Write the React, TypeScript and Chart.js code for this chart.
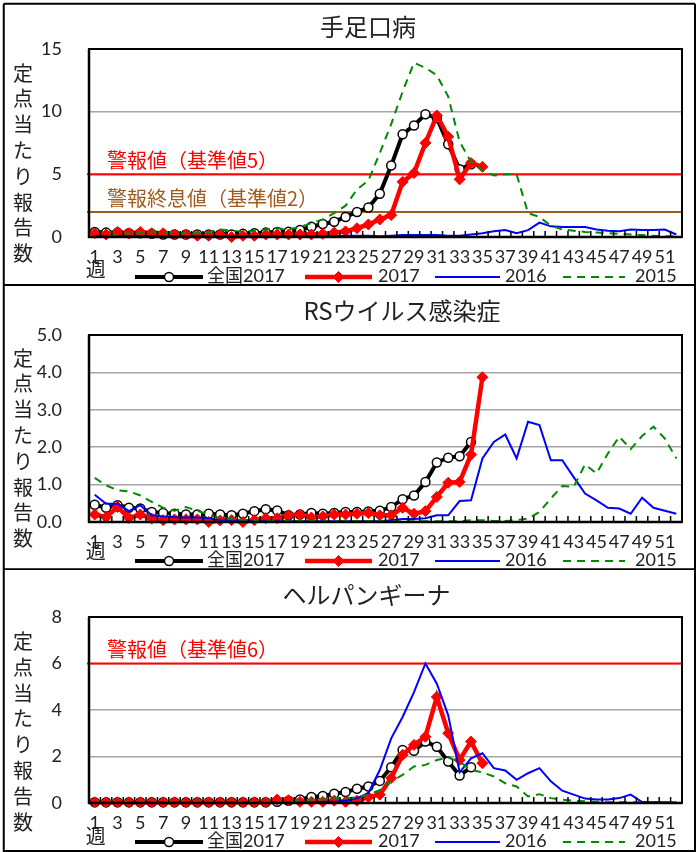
import React, { useEffect, useRef } from "react";
import { Chart, registerables } from "chart.js";
Chart.register(...registerables);

const JP = "'Noto Sans CJK JP', sans-serif";
const NUM = "Lato, 'Noto Sans CJK JP', sans-serif";

// ---------- categories ----------
const WEEKS = [
  "1", "2", "3", "4", "5", "6", "7", "8", "9", "10",
  "11", "12", "13", "14", "15", "16", "17", "18", "19", "20",
  "21", "22", "23", "24", "25", "26", "27", "28", "29", "30",
  "31", "32", "33", "34", "35", "36", "37", "38", "39", "40",
  "41", "42", "43", "44", "45", "46", "47", "48", "49", "50",
  "51", "52",
];
const SERIES_LABELS = ["全国2017", "2017", "2016", "2015"];
const Y_AXIS_LABEL = "定点当たり報告数";
const WEEK_LABEL = "週";

// ---------- 手足口病 ----------
const HFMD_TITLE = "手足口病";
const HFMD_NATIONAL_2017 = [
  0.4, 0.35, 0.35, 0.3, 0.3, 0.25, 0.2, 0.2, 0.2, 0.2,
  0.2, 0.2, 0.2, 0.25, 0.3, 0.35, 0.4, 0.42, 0.56, 0.82,
  1.04, 1.22, 1.6, 2.0, 2.35, 3.45, 5.7, 8.2, 8.9, 9.8,
  9.5, 7.4, 5.4, 5.8,
];
const HFMD_LOCAL_2017 = [
  0.3, 0.2, 0.4, 0.3, 0.4, 0.3, 0.3, 0.2, 0.2, 0.1,
  0.1, 0.2, 0.0, 0.1, 0.1, 0.2, 0.2, 0.2, 0.2, 0.2,
  0.25, 0.35, 0.45, 0.7, 1.0, 1.4, 1.75, 4.4, 5.1, 7.5,
  9.7, 8.0, 4.6, 5.9, 5.6,
];
const HFMD_2016 = [
  0.1, 0.05, 0.05, 0.05, 0.05, 0.05, 0.05, 0.05, 0.05, 0.05,
  0.05, 0.05, 0.05, 0.05, 0.05, 0.05, 0.05, 0.05, 0.05, 0.05,
  0.05, 0.05, 0.1, 0.1, 0.1, 0.05, 0.1, 0.15, 0.15, 0.15,
  0.15, 0.1, 0.1, 0.2, 0.3, 0.45, 0.55, 0.3, 0.55, 1.15,
  0.85, 0.8, 0.8, 0.8, 0.6, 0.5, 0.45, 0.6, 0.55, 0.55,
  0.6, 0.2,
];
const HFMD_2015 = [
  0.0, 0.1, 0.2, 0.3, 0.4, 0.45, 0.4, 0.35, 0.3, 0.3,
  0.4, 0.6, 0.5, 0.4, 0.5, 0.6, 0.7, 0.6, 0.8, 1.1,
  1.4, 1.9, 2.5, 3.8, 4.5, 6.7, 9.0, 11.6, 13.9, 13.5,
  12.9, 11.2, 7.6, 6.0, 5.3, 4.9, 5.0, 5.0, 1.9, 1.6,
  0.9, 0.6, 0.5, 0.4, 0.35, 0.3, 0.25, 0.2, 0.15, 0.1,
  0.05, 0.05,
];
const HFMD_Y_TICKS = [0, 5, 10, 15];
const HFMD_Y_TICK_LABELS = ["0", "5", "10", "15"];
const HFMD_THRESHOLD_VALUES = [5, 2];
const HFMD_THRESHOLD_LABELS = ["警報値（基準値5）", "警報終息値（基準値2）"];

// ---------- RSウイルス感染症 ----------
const RSV_TITLE = "RSウイルス感染症";
const RSV_NATIONAL_2017 = [
  0.46, 0.38, 0.45, 0.38, 0.36, 0.27, 0.24, 0.22, 0.2, 0.2,
  0.22, 0.2, 0.18, 0.22, 0.29, 0.34, 0.31, 0.18, 0.2, 0.24,
  0.22, 0.24, 0.27, 0.27, 0.28, 0.3, 0.4, 0.61, 0.71, 1.07,
  1.59, 1.72, 1.76, 2.14,
];
const RSV_LOCAL_2017 = [
  0.2, 0.13, 0.4, 0.11, 0.2, 0.09, 0.05, 0.07, 0.07, 0.07,
  0.0, 0.04, 0.05, 0.0, 0.05, 0.1, 0.1, 0.18, 0.2, 0.12,
  0.15, 0.2, 0.2, 0.22, 0.24, 0.18, 0.18, 0.38, 0.22, 0.29,
  0.67, 1.05, 1.07, 1.8, 3.87,
];
const RSV_2016 = [
  0.73, 0.49, 0.49, 0.29, 0.45, 0.18, 0.15, 0.13, 0.12, 0.12,
  0.1, 0.05, 0.03, 0.02, 0.02, 0.02, 0.02, 0.02, 0.02, 0.02,
  0.02, 0.02, 0.02, 0.02, 0.02, 0.02, 0.05, 0.08, 0.08, 0.1,
  0.18, 0.18, 0.56, 0.58, 1.7, 2.14, 2.34, 1.7, 2.68, 2.59,
  1.65, 1.65, 1.2, 0.76, 0.58, 0.38, 0.36, 0.22, 0.65, 0.38,
  0.3, 0.22,
];
const RSV_2015 = [
  1.18, 0.98, 0.85, 0.82, 0.71, 0.54, 0.38, 0.3, 0.4, 0.3,
  0.2, 0.1, 0.08, 0.06, 0.05, 0.04, 0.04, 0.03, 0.03, 0.03,
  0.03, 0.03, 0.03, 0.03, 0.03, 0.02, 0.02, 0.02, 0.02, 0.02,
  0.02, 0.02, 0.02, 0.05, 0.05, 0.03, 0.03, 0.05, 0.09, 0.27,
  0.63, 0.96, 0.94, 1.54, 1.3, 1.83, 2.28, 1.95, 2.3, 2.55,
  2.23, 1.7,
];
const RSV_Y_TICKS = [0, 1, 2, 3, 4, 5];
const RSV_Y_TICK_LABELS = ["0.0", "1.0", "2.0", "3.0", "4.0", "5.0"];

// ---------- ヘルパンギーナ ----------
const HERP_TITLE = "ヘルパンギーナ";
const HERP_NATIONAL_2017 = [
  0.03, 0.03, 0.03, 0.03, 0.03, 0.03, 0.03, 0.03, 0.03, 0.03,
  0.03, 0.03, 0.03, 0.03, 0.03, 0.03, 0.05, 0.1, 0.15, 0.26,
  0.3, 0.4, 0.47, 0.61, 0.71, 0.95, 1.54, 2.28, 2.25, 2.64,
  2.42, 1.78, 1.18, 1.54,
];
const HERP_LOCAL_2017 = [
  0.03, 0.03, 0.03, 0.03, 0.03, 0.03, 0.03, 0.03, 0.03, 0.03,
  0.03, 0.03, 0.03, 0.03, 0.03, 0.03, 0.15, 0.12, 0.05, 0.05,
  0.05, 0.1, 0.05, 0.1, 0.26, 0.36, 1.07, 2.07, 2.5, 2.85,
  4.56, 3.0, 1.85, 2.64, 1.71,
];
const HERP_2016 = [
  0.02, 0.02, 0.02, 0.02, 0.02, 0.02, 0.02, 0.02, 0.02, 0.02,
  0.02, 0.02, 0.02, 0.02, 0.02, 0.02, 0.02, 0.02, 0.02, 0.02,
  0.05, 0.05, 0.1, 0.2, 0.43, 1.42, 2.78, 3.7, 4.77, 6.0,
  5.13, 3.77, 1.32, 1.92, 2.14, 1.5, 1.4, 1.0, 1.28, 1.5,
  0.93, 0.53, 0.36, 0.19, 0.15, 0.15, 0.21, 0.36, 0.04, 0.04,
  0.03, 0.02,
];
const HERP_2015 = [
  0.05, 0.05, 0.05, 0.05, 0.05, 0.05, 0.05, 0.05, 0.05, 0.05,
  0.05, 0.05, 0.05, 0.05, 0.05, 0.05, 0.05, 0.05, 0.1, 0.15,
  0.15, 0.2, 0.2, 0.25, 0.36, 0.55, 0.93, 1.21, 1.57, 1.64,
  1.85, 1.95, 1.78, 1.42, 1.32, 1.14, 0.85, 0.71, 0.28, 0.38,
  0.21, 0.14, 0.1, 0.07, 0.05, 0.03, 0.03, 0.03, 0.03, 0.03,
  0.03, 0.03,
];
const HERP_Y_TICKS = [0, 2, 4, 6, 8];
const HERP_Y_TICK_LABELS = ["0", "2", "4", "6", "8"];
const HERP_THRESHOLD_VALUES = [6];
const HERP_THRESHOLD_LABELS = ["警報値（基準値6）"];

// ---------- styles ----------
const RED = "#ff0000";
const BROWN = "#9e5b1f";
const BLUE = "#0000ff";
const GREEN = "#008a00";
const GRID = "#a6a6a6";
const TEXT = "#222222";

const LEGEND_SLOTS = [
  { lineStart: 135, lineEnd: 203, textX: 207 },
  { lineStart: 305, lineEnd: 372, textX: 378 },
  { lineStart: 435, lineEnd: 500, textX: 505 },
  { lineStart: 563, lineEnd: 625, textX: 635 },
];

type Series = (number | null)[];
interface PanelCfg {
  height: number;
  plotTop: number;
  plotBottom: number;
  title: string;
  titleX: number;
  titleY: number;
  yLabelTop: number;
  legendY: number;
  weekY: number;
  topBorder: boolean;
  bottomBorderY: number;
  yTicks: number[];
  yTickLabels: string[];
  series: Series[];
  thresholds: { value: number; label: string; color: string }[];
}

function drawMarker(ctx: CanvasRenderingContext2D, style: string, x: number, y: number, r: number, fill: string, stroke: string, bw: number) {
  ctx.beginPath();
  if (style === "rectRot") {
    ctx.moveTo(x, y - r);
    ctx.lineTo(x + r, y);
    ctx.lineTo(x, y + r);
    ctx.lineTo(x - r, y);
    ctx.closePath();
  } else {
    ctx.arc(x, y, r, 0, Math.PI * 2);
  }
  ctx.fillStyle = fill;
  ctx.fill();
  ctx.lineWidth = bw;
  ctx.strokeStyle = stroke;
  ctx.stroke();
}

const decorPlugin = {
  id: "decor",
  beforeDatasetsDraw(chart: any, _args: any, o: any) {
    const { ctx, chartArea: a } = chart;
    const ys = chart.scales.y;
    ctx.save();
    for (const t of o.thresholds) {
      const py = ys.getPixelForValue(t.value);
      ctx.strokeStyle = t.color;
      ctx.lineWidth = 2;
      ctx.beginPath();
      ctx.moveTo(a.left - 2, py);
      ctx.lineTo(a.right, py);
      ctx.stroke();
      ctx.fillStyle = t.color;
      ctx.font = `20px ${JP}`;
      ctx.textAlign = "left";
      ctx.textBaseline = "middle";
      ctx.fillText(t.label, a.left + 18, py - 14);
    }
    ctx.restore();
  },
  afterDatasetsDraw(chart: any) {
    const { ctx, chartArea: a } = chart;
    const xs = chart.scales.x;
    const n = chart.data.labels.length;
    ctx.save();
    ctx.strokeStyle = "#000";
    ctx.lineWidth = 1.5;
    ctx.beginPath();
    for (let i = 1; i < n; i++) {
      const px = (xs.getPixelForValue(i - 1) + xs.getPixelForValue(i)) / 2;
      ctx.moveTo(px, a.bottom);
      ctx.lineTo(px, a.bottom - 6);
    }
    ctx.stroke();
    ctx.lineWidth = 2;
    ctx.strokeRect(a.left, a.top, a.right - a.left, a.bottom - a.top);
    ctx.lineWidth = 2.5;
    ctx.beginPath();
    ctx.moveTo(a.left, a.top);
    ctx.lineTo(a.left, a.bottom);
    ctx.lineTo(a.right, a.bottom);
    ctx.stroke();
    ctx.restore();
  },
  afterDraw(chart: any, _args: any, o: any) {
    const { ctx } = chart;
    const xs = chart.scales.x;
    ctx.save();
    ctx.fillStyle = TEXT;
    ctx.textAlign = "center";
    ctx.textBaseline = "middle";
    ctx.font = `24px ${JP}`;
    ctx.fillText(o.title, o.titleX, o.titleY);
    ctx.font = `20px ${JP}`;
    Array.from(Y_AXIS_LABEL).forEach((ch, i) => ctx.fillText(ch, 23, o.yLabelTop + i * 25.8));
    ctx.fillText(WEEK_LABEL, xs.getPixelForValue(0) + 1, o.weekY);

    chart.data.datasets.forEach((ds: any, i: number) => {
      const s = LEGEND_SLOTS[i];
      ctx.save();
      ctx.strokeStyle = ds.borderColor;
      ctx.lineWidth = ds.borderWidth;
      ctx.setLineDash(ds.borderDash || []);
      ctx.beginPath();
      ctx.moveTo(s.lineStart, o.legendY);
      ctx.lineTo(s.lineEnd, o.legendY);
      ctx.stroke();
      ctx.setLineDash([]);
      if (ds.pointRadius > 0) {
        drawMarker(ctx, ds.pointStyle, (s.lineStart + s.lineEnd) / 2, o.legendY, ds.pointRadius, ds.pointBackgroundColor, ds.pointBorderColor, ds.pointBorderWidth);
      }
      ctx.restore();
      ctx.fillStyle = TEXT;
      ctx.font = `18px ${NUM}`;
      ctx.textAlign = "left";
      ctx.textBaseline = "middle";
      ctx.fillText(ds.label, s.textX, o.legendY - 1);
    });

    ctx.strokeStyle = "#000";
    ctx.lineWidth = 2;
    ctx.beginPath();
    const top = o.topBorder ? 3.75 : 0;
    ctx.moveTo(3.75, top);
    ctx.lineTo(3.75, o.bottomBorderY);
    ctx.moveTo(695, top);
    ctx.lineTo(695, o.bottomBorderY);
    if (o.topBorder) {
      ctx.moveTo(3.75, top);
      ctx.lineTo(695, top);
    }
    ctx.moveTo(2.75, o.bottomBorderY);
    ctx.lineTo(696, o.bottomBorderY);
    ctx.stroke();
    ctx.restore();
  },
};

function buildDatasets(series: Series[]) {
  return [
    {
      label: SERIES_LABELS[0], data: series[0], order: 3,
      borderColor: "#000000", borderWidth: 4,
      pointStyle: "circle", pointRadius: 4.5,
      pointBackgroundColor: "#ffffff", pointBorderColor: "#000000", pointBorderWidth: 1.5,
    },
    {
      label: SERIES_LABELS[1], data: series[1], order: 2,
      borderColor: RED, borderWidth: 4.5,
      pointStyle: "rectRot", pointRadius: 5.5,
      pointBackgroundColor: RED, pointBorderColor: RED, pointBorderWidth: 1,
    },
    {
      label: SERIES_LABELS[2], data: series[2], order: 1,
      borderColor: BLUE, borderWidth: 2, pointRadius: 0,
    },
    {
      label: SERIES_LABELS[3], data: series[3], order: 0,
      borderColor: GREEN, borderWidth: 2, borderDash: [8, 6], pointRadius: 0,
    },
  ];
}

function Panel({ cfg }: { cfg: PanelCfg }) {
  const ref = useRef<HTMLCanvasElement>(null);
  useEffect(() => {
    const maxY = cfg.yTicks[cfg.yTicks.length - 1];
    const chart = new Chart(ref.current as HTMLCanvasElement, {
      type: "line",
      data: { labels: WEEKS, datasets: buildDatasets(cfg.series) as any },
      plugins: [decorPlugin as any],
      options: {
        animation: false,
        responsive: false,
        devicePixelRatio: 1,
        layout: { padding: { top: cfg.plotTop, right: 15, left: 0, bottom: 0 } },
        elements: { line: { tension: 0 } },
        datasets: { line: { clip: false as any, spanGaps: false } },
        plugins: {
          legend: { display: false },
          tooltip: { enabled: false },
          title: { display: false },
          decor: {
            title: cfg.title, titleX: cfg.titleX, titleY: cfg.titleY,
            yLabelTop: cfg.yLabelTop, legendY: cfg.legendY, weekY: cfg.weekY,
            topBorder: cfg.topBorder, bottomBorderY: cfg.bottomBorderY,
            thresholds: cfg.thresholds,
          },
        } as any,
        scales: {
          x: {
            type: "category",
            offset: true,
            grid: { display: false, drawTicks: false },
            border: { display: false },
            afterFit: (s: any) => { s.height = cfg.height - cfg.plotBottom; },
            ticks: {
              autoSkip: false, maxRotation: 0, minRotation: 0, padding: 9,
              color: TEXT, font: { family: NUM, size: 18 },
              callback: (_v: any, i: number) => (i % 2 === 0 ? WEEKS[i] : ""),
            },
          },
          y: {
            min: 0, max: maxY,
            afterFit: (s: any) => { s.width = 89; },
            afterBuildTicks: (s: any) => { s.ticks = cfg.yTicks.map((v) => ({ value: v })); },
            grid: {
              drawTicks: false, lineWidth: 1.5,
              color: (c: any) => (c.tick && (c.tick.value === 0 || c.tick.value === maxY) ? "rgba(0,0,0,0)" : GRID),
            },
            border: { display: false },
            ticks: {
              padding: 27, color: TEXT, font: { family: NUM, size: 18 },
              callback: (_v: any, i: number) => cfg.yTickLabels[i],
            },
          },
        },
      },
    });
    return () => chart.destroy();
  }, [cfg]);
  return <canvas ref={ref} width={697} height={cfg.height} style={{ display: "block", width: 697, height: cfg.height }} />;
}

const PANELS: PanelCfg[] = [
  {
    height: 286, plotTop: 49, plotBottom: 237, title: HFMD_TITLE, titleX: 368, titleY: 27,
    yLabelTop: 73, legendY: 277, weekY: 269, topBorder: true, bottomBorderY: 285,
    yTicks: HFMD_Y_TICKS, yTickLabels: HFMD_Y_TICK_LABELS,
    series: [HFMD_NATIONAL_2017, HFMD_LOCAL_2017, HFMD_2016, HFMD_2015],
    thresholds: [
      { value: HFMD_THRESHOLD_VALUES[0], label: HFMD_THRESHOLD_LABELS[0], color: RED },
      { value: HFMD_THRESHOLD_VALUES[1], label: HFMD_THRESHOLD_LABELS[1], color: BROWN },
    ],
  },
  {
    height: 284, plotTop: 49, plotBottom: 236, title: RSV_TITLE, titleX: 402, titleY: 25,
    yLabelTop: 72, legendY: 275, weekY: 265.5, topBorder: false, bottomBorderY: 283.3,
    yTicks: RSV_Y_TICKS, yTickLabels: RSV_Y_TICK_LABELS,
    series: [RSV_NATIONAL_2017, RSV_LOCAL_2017, RSV_2016, RSV_2015],
    thresholds: [],
  },
  {
    height: 282, plotTop: 47, plotBottom: 233, title: HERP_TITLE, titleX: 366.5, titleY: 25,
    yLabelTop: 71.5, legendY: 272, weekY: 266.5, topBorder: false, bottomBorderY: 281,
    yTicks: HERP_Y_TICKS, yTickLabels: HERP_Y_TICK_LABELS,
    series: [HERP_NATIONAL_2017, HERP_LOCAL_2017, HERP_2016, HERP_2015],
    thresholds: [{ value: HERP_THRESHOLD_VALUES[0], label: HERP_THRESHOLD_LABELS[0], color: RED }],
  },
];

export default function App() {
  useEffect(() => {
    document.body.style.margin = "0";
    document.body.style.background = "#ffffff";
  }, []);
  return (
    <div style={{ width: 697, height: 852, overflow: "hidden", background: "#fff" }}>
      {PANELS.map((p, i) => (
        <Panel key={i} cfg={p} />
      ))}
    </div>
  );
}
